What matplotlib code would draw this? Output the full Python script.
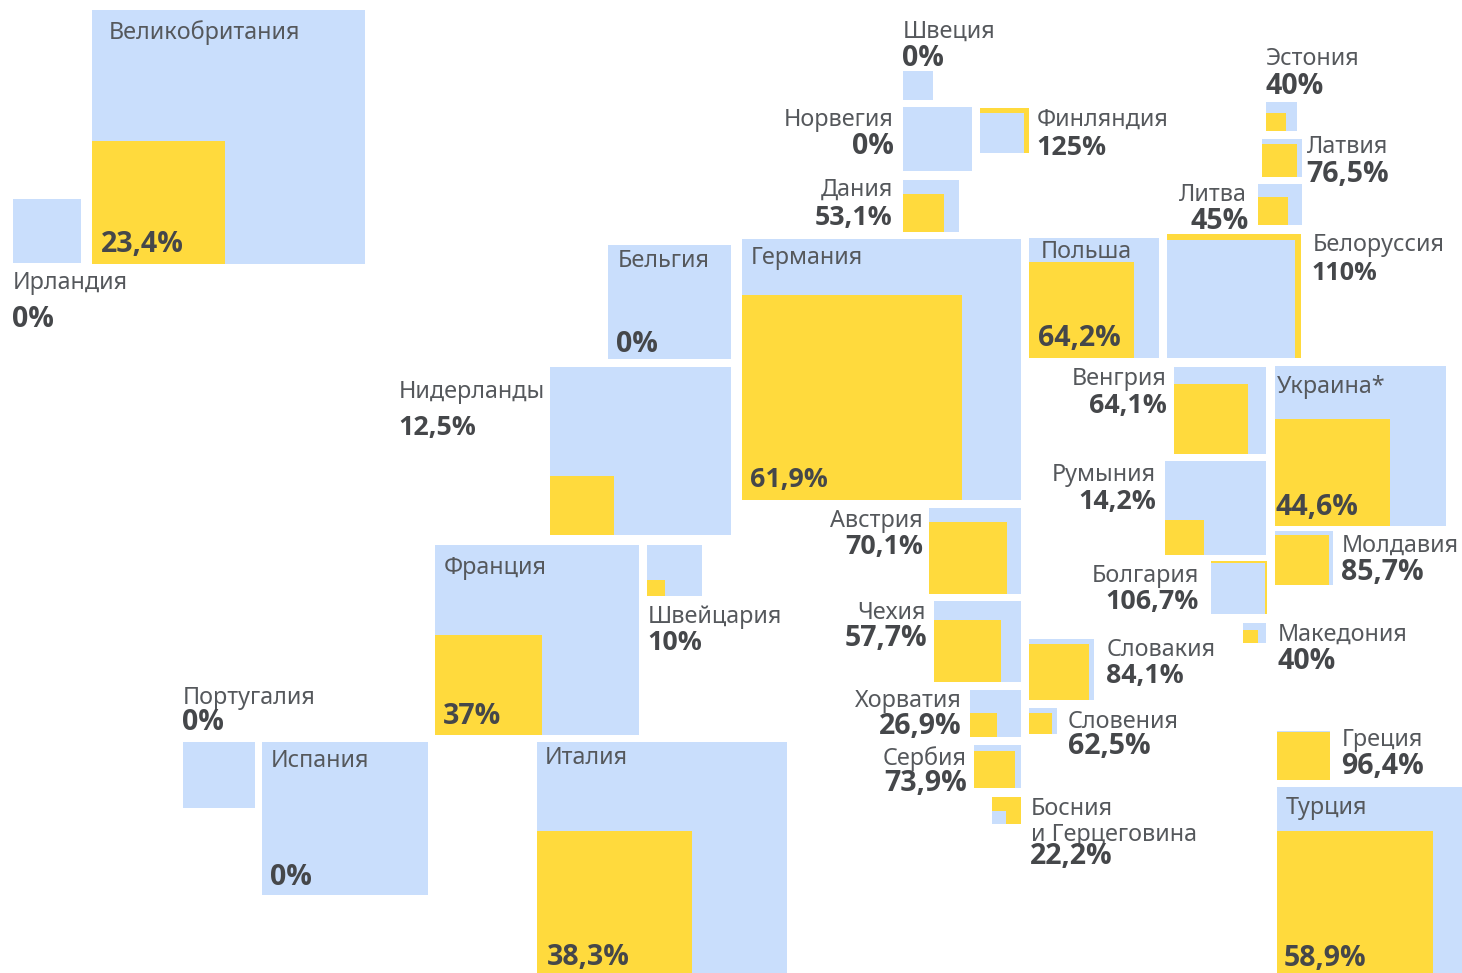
import matplotlib
matplotlib.use("Agg")
import matplotlib.pyplot as plt
from matplotlib.patches import Rectangle
from matplotlib import font_manager as fm
import math

countries = ["Великобритания","Ирландия","Швеция","Норвегия","Финляндия","Дания","Эстония","Латвия","Литва",
             "Белоруссия","Бельгия","Германия","Польша","Нидерланды","Венгрия","Украина*","Румыния","Австрия",
             "Молдавия","Франция","Швейцария","Болгария","Чехия","Македония","Словакия","Хорватия","Словения",
             "Португалия","Греция","Сербия","Испания","Италия","Турция","Босния\nи Герцеговина"]
percent = [23.4,0,0,0,125,53.1,40,76.5,45,110,0,61.9,64.2,12.5,64.1,44.6,14.2,70.1,85.7,37,10,106.7,57.7,40,
           84.1,26.9,62.5,0,96.4,73.9,0,38.3,58.9,22.2]
# The French yellow square is drawn smaller than its label says (share)
drawn_share = {"Франция": 27.5}
# Bosnia: the colours are swapped in the original, blue square sits on yellow
swapped = ["Босния\nи Герцеговина"]

# layout: blue square x0, y0, x1, y1 in image pixels
boxes = [(92,10,365,264),(13,199,81,263),(903,71,933,100),(903,107,972,171),(980,113,1024,153),(903,180,959,232),
         (1266,102,1297,131),(1262,139,1302,177),(1258,184,1302,225),(1167,240,1295,358),(608,245,731,359),
         (742,239,1021,500),(1029,238,1159,358),(550,367,731,535),(1174,367,1266,454),(1275,366,1446,526),
         (1165,461,1266,555),(929,508,1021,594),(1275,531,1333,585),(435,545,639,735),(647,545,702,596),
         (1211,563,1265,614),(934,601,1021,682),(1243,623,1266,643),(1029,639,1094,700),(970,690,1021,737),
         (1029,708,1057,734),(183,742,255,808),(1277,731,1330,780),(974,745,1021,788),(262,742,428,895),
         (537,742,787,975),(1277,787,1479,976),(992,797,1021,824)]
# layout: ha, name x, name baseline, percent x, percent baseline
labels = [("left",109,39,101,252),("left",13,289,12,327),("left",903,38,902,66),("right",894,126,894,154),
          ("left",1037,126,1036,155),("right",893,196,892,225),("left",1266,65,1265,94),("left",1307,153,1306,182),
          ("right",1247,201,1249,229),("left",1313,251,1312,280),("left",618,267,616,352),("left",751,264,750,487),
          ("left",1041,258,1038,346),("left",399,398,398,435),("right",1167,385,1167,413),("left",1277,393,1275,515),
          ("right",1156,481,1156,509),("right",923,527,923,554),("left",1342,552,1341,580),("left",444,574,443,724),
          ("left",648,623,647,650),("right",1199,582,1199,609),("right",926,619,927,646),("left",1278,641,1277,669),
          ("left",1107,656,1106,683),("right",962,707,962,734),("left",1068,728,1068,754),("left",183,704,182,730),
          ("left",1342,746,1341,774),("right",967,765,967,791),("left",271,767,270,885),("left",545,764,547,965),
          ("left",1286,814,1284,966),("left",1031,815,1030,864)]

BLUE, YELLOW = "#C9DEFC", "#FFDA3D"
NAME_C, PCT_C = "#55585C", "#45474A"

plt.rcParams["font.family"] = ["Noto Sans", "DejaVu Sans"]
fig = plt.figure(figsize=(14.62, 9.73), dpi=100)
ax = fig.add_axes([0, 0, 1, 1])
ax.set_xlim(0, 1462)
ax.set_ylim(973, 0)
ax.axis("off")

def square(x0, y1, w, h, color, z):
    ax.add_patch(Rectangle((x0, y1 - h), w, h, facecolor=color, edgecolor="none", zorder=z))

for name, val, (x0, y0, x1, y1), (ha, nx, ny, px, py) in zip(countries, percent, boxes, labels):
    w, h = x1 - x0, y1 - y0
    k = math.sqrt(drawn_share.get(name, val) / 100)
    if name in swapped:
        square(x0, y1, w, h, YELLOW, 1)
        square(x0, y1, w * k, h * k, BLUE, 2)
    elif val > 100:
        square(x0, y1, w * k, h * k, YELLOW, 1)
        square(x0, y1, w, h, BLUE, 2)
    else:
        square(x0, y1, w, h, BLUE, 1)
        if val > 0:
            square(x0, y1, w * k + 0.5, h * k, YELLOW, 2)
    for i, line in enumerate(name.split("\n")):
        ax.text(nx, ny + i * 26, line, ha=ha, va="baseline", fontsize=16.85, color=NAME_C, zorder=3)
    txt = f"{val:g}%".replace(".", ",")
    # the original font has a narrow digit 1, Open Sans does not: shrink those labels a little
    size = 20.5 - 1.2 * txt.count("1")
    bold_font = fm.FontProperties(family="Open Sans", weight="bold", size=size)
    ax.text(px, py, txt, ha=ha, va="baseline", fontproperties=bold_font, color=PCT_C, zorder=4)

fig.savefig("out.png", dpi=100, facecolor="white")
